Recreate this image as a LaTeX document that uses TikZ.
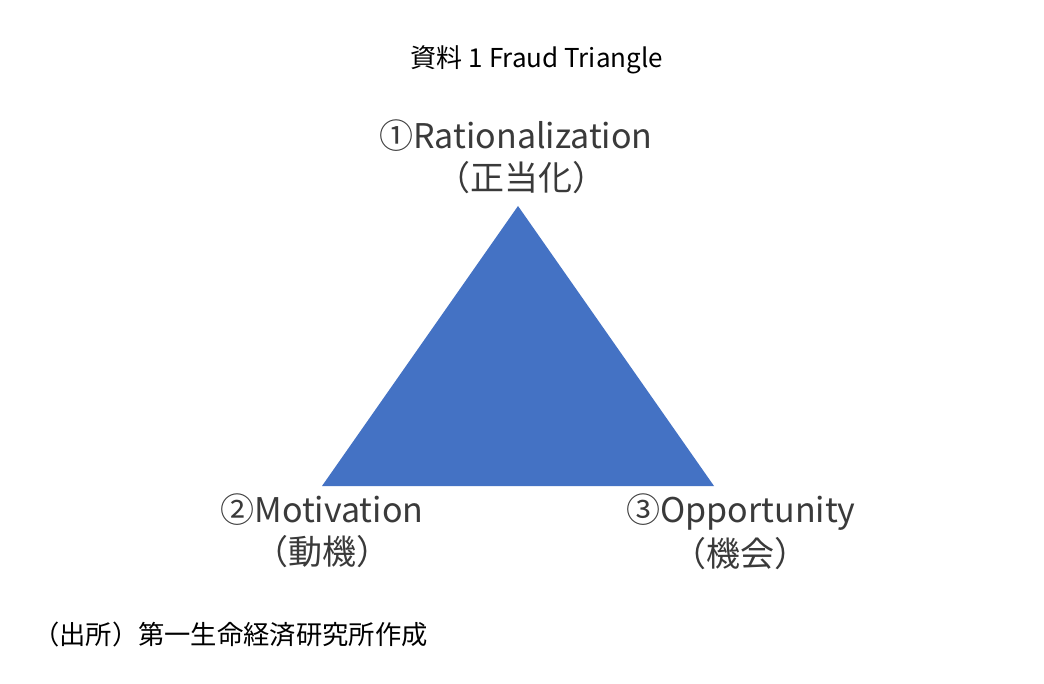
\documentclass[tikz,border=0pt]{standalone}
\usepackage{fontspec}
\setmainfont{Noto Sans CJK JP}
\definecolor{triblue}{HTML}{4472C4}
\definecolor{labgray}{HTML}{3A3A3A}
\begin{document}
\begin{tikzpicture}[x=1pt,y=-1pt,
  title/.style={font=\fontsize{26}{30}\selectfont, text=black, inner sep=0pt},
  lab/.style={font=\fontsize{34}{40}\selectfont, text=labgray, inner sep=0pt, align=center},
  foot/.style={font=\fontsize{26.3}{30}\selectfont, text=black, inner sep=0pt, anchor=west}]
\useasboundingbox[fill=white] (0,0) rectangle (1044,684);
\node[title] (t) at (537,60) {資料 1 Fraud Triangle};
\coordinate (A) at (518,206);
\coordinate (B) at (322,486);
\coordinate (C) at (714,486);
\fill[triblue] (A) -- (B) -- (C) -- cycle;
\node[lab] (r1) at (516,136) {①Rationalization};
\node[lab] (r2) at (521,178) {（正当化）};
\node[lab] (m1) at (322,510) {②Motivation};
\node[lab] (m2) at (322,552) {（動機）};
\node[lab] (o1) at (741,512) {③Opportunity};
\node[lab] (o2) at (740,554) {（機会）};
\node[foot] (f) at (33,635) {（出所）第一生命経済研究所作成};
\end{tikzpicture}
\end{document}
